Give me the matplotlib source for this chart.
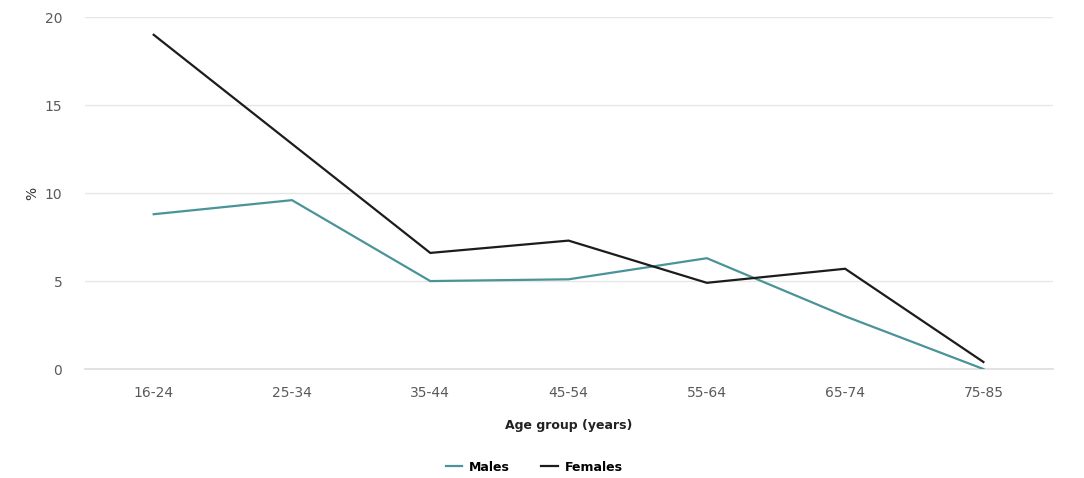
import numpy as np
import matplotlib.pyplot as plt

age_groups = ['16-24', '25-34', '35-44', '45-54', '55-64', '65-74', '75-85']
males = [8.8, 9.6, 5.0, 5.1, 6.3, 3.0, 0.0]
females = [19.0, 12.8, 6.6, 7.3, 4.9, 5.7, 0.4]

fig = plt.figure(figsize=(10.84, 4.78), dpi=100)
ax = fig.add_axes([0.078, 0.228, 0.893, 0.736])

x = np.arange(len(age_groups))
ax.plot(x, males, color='#4a9499', lw=1.6, label='Males', solid_joinstyle='miter', zorder=3)
ax.plot(x, females, color='#1c1c1c', lw=1.6, label='Females', solid_joinstyle='miter', zorder=3)

ax.set_xlim(-0.5, len(age_groups) - 0.5)
ax.set_ylim(0, 20)
ax.set_yticks([0, 5, 10, 15, 20])
ax.set_xticks(x)
ax.set_xticklabels(age_groups)
ax.grid(axis='y', color='#e6e6e6', lw=1)
ax.axhline(0, color='#dcdcdc', lw=1.2, clip_on=False, zorder=1)
ax.set_axisbelow(True)
for s in ax.spines.values():
    s.set_visible(False)
ax.tick_params(length=0, colors='#5a5a5a', labelsize=10)
ax.tick_params(axis='y', pad=16)
ax.tick_params(axis='x', pad=12)

ax.set_ylabel('%', fontsize=10, color='#333333', labelpad=4)
ax.set_xlabel('Age group (years)', fontsize=9, color='#222222',
              fontweight='semibold', labelpad=14)

fig.legend(loc='center', bbox_to_anchor=(0.493, 0.023), ncol=2, frameon=False,
           handlelength=1.3, columnspacing=2.5, handletextpad=0.6,
           prop={'weight': 'semibold', 'size': 9})

fig.savefig('out.png', dpi=100)
